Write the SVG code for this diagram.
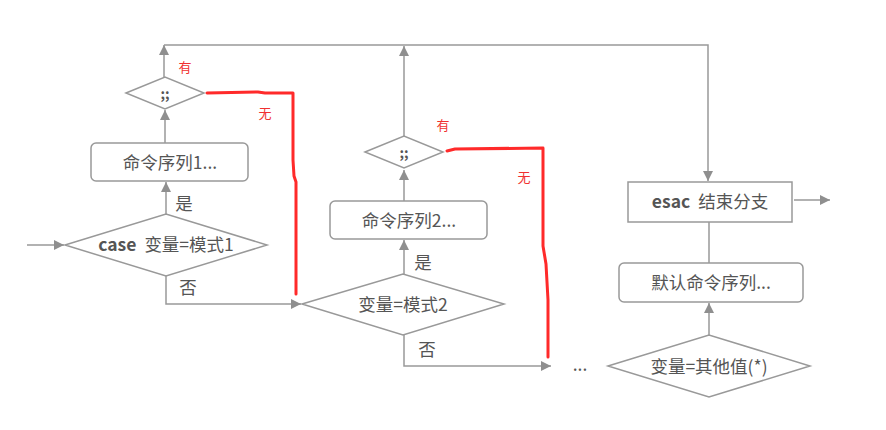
<svg xmlns="http://www.w3.org/2000/svg" width="886" height="430" viewBox="0 0 886 430">
<defs>
<marker id="ah" viewBox="0 0 10 10" refX="10" refY="5" markerWidth="10" markerHeight="10" markerUnits="userSpaceOnUse" orient="auto">
<path d="M0,0 L10,5 L0,10 Z" fill="#8f8f8f"/>
</marker>
<style>
.ln{fill:none;stroke:#999;stroke-width:1.5}
.nd{fill:#fff;stroke:#999;stroke-width:1.5}
.t{font-family:"Noto Sans CJK SC","Noto Sans",sans-serif;font-size:17.5px;fill:#555;text-anchor:middle}
.b{font-weight:bold}
.r{font-family:"Noto Sans CJK SC","Noto Sans",sans-serif;font-size:13px;fill:#f03030;text-anchor:middle}
.red{fill:none;stroke:#ff2a2a;stroke-width:3;stroke-linejoin:round;stroke-linecap:round}
</style>
</defs>
<rect width="886" height="430" fill="#fff"/>
<g id="connectors">
<path class="ln" d="M27,245 H64" marker-end="url(#ah)"/>
<path class="ln" d="M166,214 V182" marker-end="url(#ah)"/>
<path class="ln" d="M165,143 V110" marker-end="url(#ah)"/>
<path class="ln" d="M164,77 V45" marker-end="url(#ah)"/>
<path class="ln" d="M164,45 H708 V181" marker-end="url(#ah)"/>
<path class="ln" d="M166,276 V304 H301" marker-end="url(#ah)"/>
<path class="ln" d="M404,274 V240" marker-end="url(#ah)"/>
<path class="ln" d="M404,201 V170" marker-end="url(#ah)"/>
<path class="ln" d="M404,136 V46" marker-end="url(#ah)"/>
<path class="ln" d="M404,335 V366 H551" marker-end="url(#ah)"/>
<path class="ln" d="M709,335 V303" marker-end="url(#ah)"/>
<path class="ln" d="M709,263 V222"/>
<path class="ln" d="M794,200 H830" marker-end="url(#ah)"/>
<path class="red" d="M207,93 L258,92 L265,93 L293,93 L293,160 L294,176 L296,182 L296,294"/>
<path class="red" d="M447,151 L455,149 L543,148 L543,246 L546,264 L548,300 L548,357"/>
</g>
<g id="case1">
<polygon class="nd" points="65,245 166,214 267,245 166,276"/>
<text class="t" x="166" y="251"><tspan class="b">case</tspan><tspan dx="8">变量=模式1</tspan></text>
</g>
<g id="cmd1">
<rect class="nd" x="91" y="143" width="157" height="38" rx="5"/>
<text class="t" x="170" y="169">命令序列1...</text>
</g>
<g id="semi1">
<polygon class="nd" points="126,93 165,77 204,93 165,109"/>
<text class="t b" x="165" y="99" style="font-size:14px">;;</text>
</g>
<g id="case2">
<polygon class="nd" points="302,304 403,274 504,304 403,335"/>
<text class="t" x="403" y="311">变量=模式2</text>
</g>
<g id="cmd2">
<rect class="nd" x="330" y="201" width="157" height="38" rx="5"/>
<text class="t" x="409" y="227">命令序列2...</text>
</g>
<g id="semi2">
<polygon class="nd" points="365,152 404,136 443,152 404,168"/>
<text class="t b" x="404" y="158" style="font-size:14px">;;</text>
</g>
<g id="esac">
<rect class="nd" x="628" y="182" width="164" height="40"/>
<text class="t" x="710" y="208"><tspan class="b">esac</tspan><tspan dx="8">结束分支</tspan></text>
</g>
<g id="default">
<rect class="nd" x="619" y="263" width="184" height="39" rx="5"/>
<text class="t" x="711" y="289">默认命令序列...</text>
</g>
<g id="other">
<polygon class="nd" points="608,366 709,335 810,366 709,397"/>
<text class="t" x="709" y="373">变量=其他值(*)</text>
</g>
<g id="labels">
<text class="t" x="184" y="210">是</text>
<text class="t" x="188" y="294">否</text>
<text class="t" x="423" y="269">是</text>
<text class="t" x="427" y="356">否</text>
<text class="t" x="580" y="371">...</text>
<text class="r" x="185" y="72">有</text>
<text class="r" x="265" y="118">无</text>
<text class="r" x="443" y="130">有</text>
<text class="r" x="524" y="182">无</text>
</g>
</svg>
